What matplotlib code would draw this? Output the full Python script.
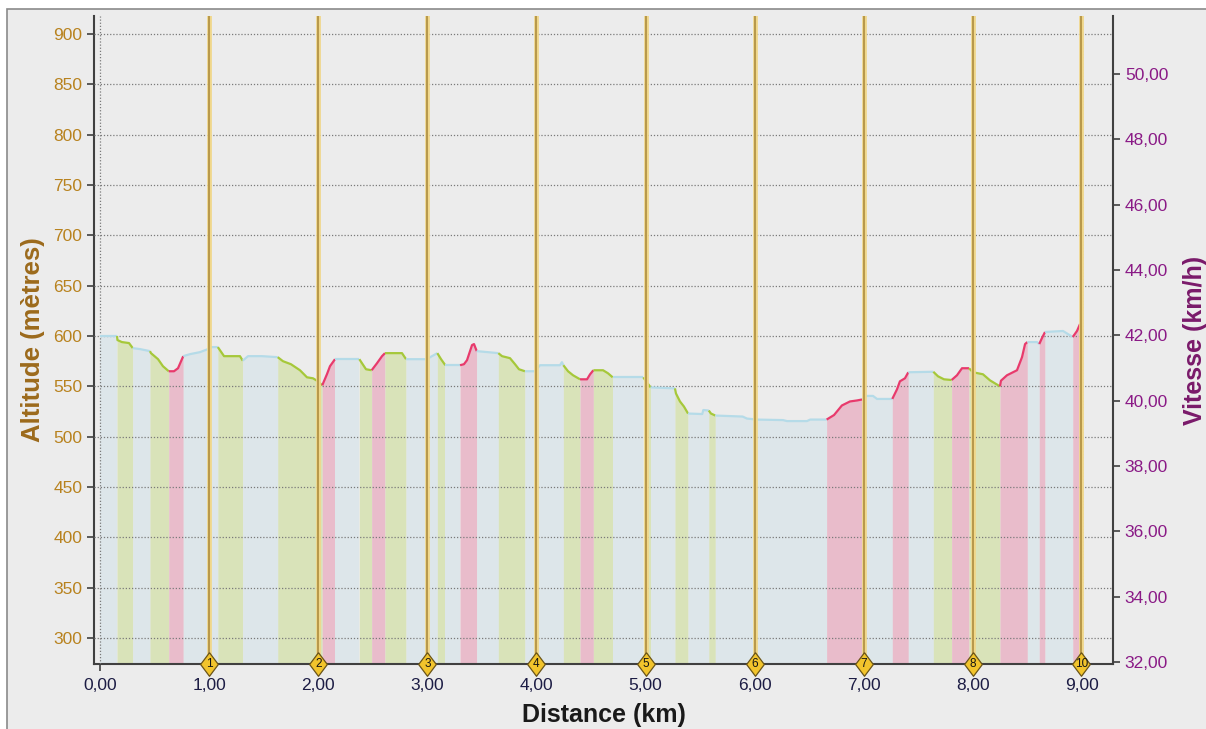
import matplotlib.pyplot as plt
import matplotlib.ticker as mticker
from matplotlib.patches import Rectangle
import numpy as np

plt.rcParams['font.family'] = ['Liberation Sans', 'DejaVu Sans']

# altitude profile (km, metres)
km = [0.00, 0.156, 0.16, 0.20, 0.266, 0.30, 0.367, 0.458, 0.467, 0.532, 0.577, 0.63,
      0.678, 0.715, 0.763, 0.825, 0.917, 0.99, 1.027, 1.08, 1.137, 1.21, 1.283, 1.308,
      1.357, 1.485, 1.629, 1.677, 1.75, 1.833, 1.897, 1.952, 1.998, 2.037, 2.08, 2.108,
      2.154, 2.377, 2.438, 2.49, 2.539, 2.585, 2.612, 2.768, 2.805, 2.995, 3.043, 3.092,
      3.126, 3.165, 3.30, 3.336, 3.364, 3.41, 3.428, 3.453, 3.651, 3.685, 3.758, 3.804,
      3.84, 3.895, 3.987, 4.033, 4.216, 4.234, 4.247, 4.29, 4.336, 4.40, 4.464, 4.492,
      4.522, 4.611, 4.656, 4.699, 4.98, 5.005, 5.047, 5.27, 5.279, 5.316, 5.352, 5.39,
      5.52, 5.53, 5.58, 5.60, 5.64, 5.89, 5.93, 6.02, 6.26, 6.297, 6.48, 6.51, 6.66,
      6.728, 6.80, 6.874, 6.939, 6.987, 7.02, 7.085, 7.122, 7.262, 7.305, 7.332, 7.378,
      7.409, 7.638, 7.681, 7.736, 7.806, 7.855, 7.901, 7.965, 8.002, 8.093, 8.157, 8.249,
      8.258, 8.313, 8.405, 8.451, 8.479, 8.50, 8.588, 8.609, 8.634, 8.662, 8.827, 8.916,
      8.955, 8.983]
alt = [600, 600, 596, 594, 593, 588, 587, 585, 583, 577, 570, 565,
       565, 568, 580, 582, 584, 587, 589, 589, 580, 580, 580, 575.5,
       580, 580, 579, 575, 572, 566, 559, 558, 555, 551, 562, 570,
       577, 577, 567, 566, 573, 580, 583, 583, 577, 577, 580, 583,
       577, 571, 571, 572, 576, 591, 592, 585, 583, 580, 578, 572,
       567, 565, 565, 571, 571, 574, 571, 565, 561, 557, 557, 562,
       566, 566, 563, 559, 559, 555, 549, 548, 543, 535, 530, 523,
       522.5, 526.5, 526, 523, 521, 520, 518, 517, 516.5, 515.5, 515.5, 517, 517,
       521.5, 531, 535, 536, 537, 540.5, 540.5, 537.5, 537.5, 547, 555, 558,
       564, 564.5, 560, 557, 556.3, 561, 568, 568, 564, 562, 556, 550,
       555.6, 561, 566, 579, 592, 594, 594, 592, 598, 604, 605, 599,
       605, 612]

# slope segments: start, end, kind (f=flat, d=down, u=up)
seg_start = [0.0, 0.156, 0.30, 0.458, 0.63, 0.763, 1.08, 1.308, 1.629, 2.037, 2.154,
             2.377, 2.49, 2.612, 2.805, 3.092, 3.165, 3.30, 3.453, 3.651, 3.895, 4.247,
             4.40, 4.522, 4.699, 4.98, 5.047, 5.27, 5.39, 5.58, 5.64, 6.66, 6.987, 7.262,
             7.409, 7.638, 7.806, 7.965, 8.249, 8.50, 8.609, 8.662, 8.916]
seg_end = seg_start[1:] + [8.983]
seg_kind = ['f', 'd', 'f', 'd', 'u', 'f', 'd', 'f', 'd', 'u', 'f',
            'd', 'u', 'd', 'f', 'd', 'f', 'u', 'f', 'd', 'f', 'd',
            'u', 'd', 'f', 'd', 'f', 'd', 'f', 'd', 'f', 'u', 'f', 'u',
            'f', 'd', 'u', 'd', 'u', 'f', 'u', 'f', 'u']

lap_km = [1, 2, 3, 4, 5, 6, 7, 8, 8.995]
lap_lbl = ['1', '2', '3', '4', '5', '6', '7', '8', '10']

fills = {'f': '#dde6ea', 'd': '#d9e3b9', 'u': '#e9bccb'}
lines = {'f': '#b5dbe8', 'd': '#a6c83a', 'u': '#e83a6c'}

km = np.array(km)
alt = np.array(alt)
ybot, ytop = 274.2, 917.9

fig = plt.figure(figsize=(12.06, 7.29), dpi=100)
fig.patch.set_facecolor('white')
fig.patches.append(Rectangle((7 / 1206, -0.1), 1.1, 1.1 - 9 / 729,
                             transform=fig.transFigure, facecolor='#ececec',
                             edgecolor='#8a8a8a', lw=1.2, zorder=-10))
ax = fig.add_axes([94 / 1206, 1 - 664 / 729, (1113 - 94) / 1206, (664 - 16) / 729])
ax.set_facecolor('none')

for a, b, k in zip(seg_start, seg_end, seg_kind):
    xs = np.concatenate([[a], km[(km > a) & (km < b)], [b]])
    ys = np.interp(xs, km, alt)
    ax.fill_between(xs, ys, ybot, color=fills[k], lw=0, zorder=1)
    ax.plot(xs, ys, color=lines[k], lw=1.6, zorder=3, solid_capstyle='butt')

for x in lap_km:
    ax.axvline(x, color='#f0d78a', lw=3.4, zorder=4)
    ax.axvline(x, color='#a8873a', lw=1.1, zorder=4)

diamond = [(0, 1), (0.75, 0), (0, -1), (-0.75, 0), (0, 1)]
ax.plot(lap_km, [ybot] * len(lap_km), ls='none', marker=diamond, ms=17,
        mfc='#f2c42c', mec='#6a5418', mew=0.9, clip_on=False, zorder=6)
for x, s in zip(lap_km, lap_lbl):
    ax.text(x, ybot, s, ha='center', va='center', fontsize=8.5, color='#151515',
            clip_on=False, zorder=7)

ax.set_xlim(-0.055, 9.285)
ax.set_ylim(ybot, ytop)
ax.set_xticks(np.arange(0, 10, 1))
ax.set_yticks(np.arange(300, 901, 50))
ax.xaxis.set_major_formatter(mticker.FuncFormatter(lambda v, p: f"{v:.2f}".replace('.', ',')))
ax.set_axisbelow(False)
ax.grid(True, color='#7a7a7a', ls=(0, (1, 1.5)), lw=0.9)
ax.tick_params(axis='y', colors='#404040', labelcolor='#b8821e', labelsize=12.5,
               length=5, width=1.2)
ax.tick_params(axis='x', colors='#404040', labelcolor='#1c1c44', labelsize=12.5,
               length=5, width=1.2, pad=5)
for s in ['top', 'right']:
    ax.spines[s].set_visible(False)
for s in ['left', 'bottom']:
    ax.spines[s].set_color('#404040')
    ax.spines[s].set_linewidth(1.5)

ax.set_xlabel('Distance (km)', fontsize=18, fontweight='bold', color='#1a1a1a', labelpad=7)
ax.set_ylabel('Altitude (mètres)', fontsize=18.5, fontweight='bold', color='#9c6a1c', labelpad=6)

ax2 = ax.twinx()
ax2.set_ylim(31.94, 51.775)
ax2.set_yticks(np.arange(32, 51, 2))
ax2.yaxis.set_major_formatter(mticker.FuncFormatter(lambda v, p: f"{v:.2f}".replace('.', ',')))
ax2.tick_params(axis='y', colors='#404040', labelcolor='#8a1a86', labelsize=12.5,
                length=5, width=1.2)
for s in ['top', 'left', 'bottom']:
    ax2.spines[s].set_visible(False)
ax2.spines['right'].set_color('#404040')
ax2.spines['right'].set_linewidth(1.5)
ax2.set_ylabel('Vitesse (km/h)', fontsize=18, fontweight='bold', color='#7a1a6a', labelpad=11)

fig.savefig('out.png', dpi=100)
